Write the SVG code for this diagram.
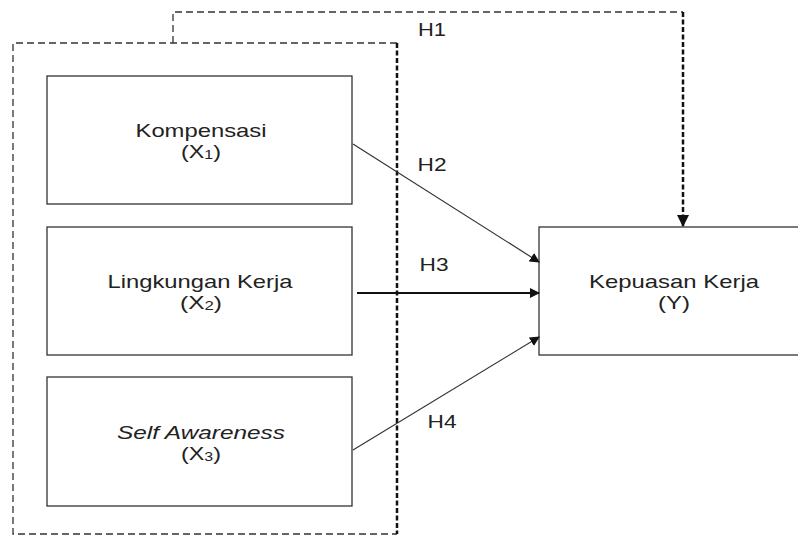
<svg xmlns="http://www.w3.org/2000/svg" width="798" height="536" viewBox="0 0 798 536">
<style>
text{font-family:"Liberation Sans",Arial,sans-serif;font-size:19px;fill:#222;text-anchor:middle}
.box{fill:#fff;stroke:#333;stroke-width:1.3}
.dash{fill:none;stroke:#333;stroke-width:1.3;stroke-dasharray:7,4}
.dashb{fill:none;stroke:#111;stroke-width:2.5;stroke-dasharray:5,2.5}
.ln{fill:none;stroke:#333;stroke-width:1.2}
</style>
<defs>
<marker id="ah" markerWidth="10" markerHeight="10" refX="9" refY="5" orient="auto" markerUnits="userSpaceOnUse"><path d="M0,0 L10,5 L0,10 z" fill="#111"/></marker>
<marker id="ah2" markerWidth="12" markerHeight="12" refX="11" refY="6" orient="auto" markerUnits="userSpaceOnUse"><path d="M0,0 L12,6 L0,12 z" fill="#111"/></marker>
</defs>
<g id="group-x">
<path class="dash" d="M397,43 L13,43 L13,534 L397,534"/>
<path class="dashb" d="M397,43 L397,534"/>
</g>
<g id="node-x1"><rect class="box" x="47" y="76" width="305" height="128"/><text x="201" y="137" textLength="131" lengthAdjust="spacingAndGlyphs">Kompensasi</text><text x="201" y="158" textLength="40" lengthAdjust="spacingAndGlyphs">(X<tspan font-size="13" dy="1">1</tspan><tspan dy="-1">)</tspan></text></g>
<g id="node-x2"><rect class="box" x="47" y="227" width="305" height="128"/><text x="200" y="288" textLength="185" lengthAdjust="spacingAndGlyphs">Lingkungan Kerja</text><text x="201" y="309" textLength="42" lengthAdjust="spacingAndGlyphs">(X<tspan font-size="13" dy="1">2</tspan><tspan dy="-1">)</tspan></text></g>
<g id="node-x3"><rect class="box" x="47" y="377" width="305" height="129"/><text x="201" y="439" font-style="italic" textLength="168" lengthAdjust="spacingAndGlyphs">Self Awareness</text><text x="201" y="460" textLength="40" lengthAdjust="spacingAndGlyphs">(X<tspan font-size="13" dy="1">3</tspan><tspan dy="-1">)</tspan></text></g>
<g id="node-y"><rect class="box" x="539" y="227" width="270" height="128"/><text x="674" y="288" textLength="170" lengthAdjust="spacingAndGlyphs">Kepuasan Kerja</text><text x="674" y="309" textLength="32" lengthAdjust="spacingAndGlyphs">(Y)</text></g>
<g id="connectors">
<path class="dash" d="M173,43 L173,12 L683,12"/>
<path class="dashb" d="M683,12 L683,226" marker-end="url(#ah2)"/>
<path class="ln" d="M353,144 L539,262" marker-end="url(#ah)"/>
<path fill="none" stroke="#111" stroke-width="2" d="M357,293 L539,293" marker-end="url(#ah)"/>
<path class="ln" d="M353,450 L539,337" marker-end="url(#ah)"/>
<text x="432" y="36" textLength="28" lengthAdjust="spacingAndGlyphs">H1</text>
<text x="432" y="171" textLength="29" lengthAdjust="spacingAndGlyphs">H2</text>
<text x="434" y="271" textLength="29" lengthAdjust="spacingAndGlyphs">H3</text>
<text x="442" y="428" textLength="29" lengthAdjust="spacingAndGlyphs">H4</text>
</g>
</svg>
